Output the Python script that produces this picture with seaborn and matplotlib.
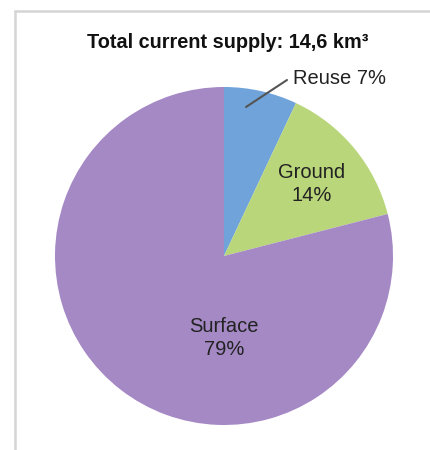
import matplotlib
matplotlib.use("Agg")
import matplotlib.pyplot as plt
import seaborn as sns
from matplotlib.lines import Line2D

categories = ["Reuse", "Ground", "Surface"]
values = [7, 14, 79]
colors = ["#6fa3d9", "#b9d67a", "#a489c5"]
title = "Total current supply: 14,6 km³"

sns.set_theme(style="white")
plt.rcParams['font.family'] = ['Liberation Sans', 'DejaVu Sans']

fig = plt.figure(figsize=(4.3, 4.5), dpi=100)
ax = fig.add_axes([(224 - 169) / 430, 1 - (256 + 169) / 450, 338 / 430, 338 / 450])
wedges, _ = ax.pie(values, colors=sns.color_palette(colors), startangle=90,
                   counterclock=False, radius=1.0,
                   wedgeprops=dict(linewidth=0))
ax.set_xlim(-1, 1)
ax.set_ylim(-1, 1)
ax.set_aspect('equal')
ax.axis('off')

# labels
ax.text(0.52, 0.426, f"{categories[1]}\n{values[1]}%", ha='center', va='center',
        fontsize=14.5, color='#222222', linespacing=1.3)
ax.text(0.0, -0.485, f"{categories[2]}\n{values[2]}%", ha='center', va='center',
        fontsize=14.5, color='#222222', linespacing=1.3)

# Reuse label with leader line (figure pixel coords)
fig.text(293 / 430, 1 - 78 / 450, f"{categories[0]} {values[0]}%", ha='left', va='center',
         fontsize=14.5, color='#222222')
fig.add_artist(Line2D([246 / 430, 287 / 430], [1 - 107 / 450, 1 - 80 / 450],
                      color='#555555', linewidth=1.5))

fig.text(228 / 430, 1 - 43 / 450, title, ha='center', va='center',
         fontsize=14.3, fontweight='bold', color='#111111')

# frame lines (top and left)
fig.add_artist(Line2D([15 / 430, 1], [1 - 11 / 450, 1 - 11 / 450], color='#d5d5d5', linewidth=1.8))
fig.add_artist(Line2D([15 / 430, 15 / 430], [0, 1 - 11 / 450], color='#d5d5d5', linewidth=1.8))

fig.savefig("out.png", dpi=100, facecolor='white')
